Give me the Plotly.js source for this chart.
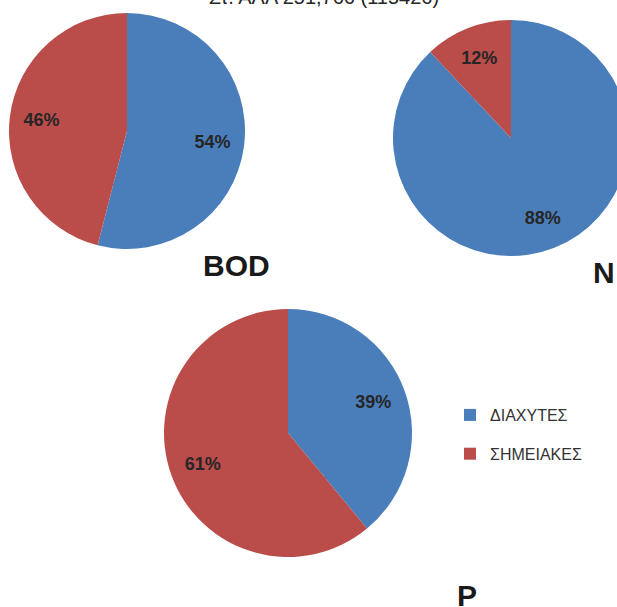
<!DOCTYPE html>
<html>
<head>
<meta charset="utf-8">
<script src="https://cdn.plot.ly/plotly-3.0.1.min.js"></script>
<style>
html,body{margin:0;padding:0;background:#fff;overflow:hidden;width:617px;height:607px;}
#chart{position:absolute;top:-20px;left:0;width:660px;height:640px;}
</style>
</head>
<body>
<div id="chart"></div>
<script>
const categories = ["ΔΙΑΧΥΤΕΣ", "ΣΗΜΕΙΑΚΕΣ"];
const bodValues = [54, 46];
const nValues = [88, 12];
const pValues = [39, 61];
const pieNames = ["BOD", "N", "P"];
const chartTitle = "Στ. ΑΛΛ 251,766 (115426)";

const colors = ["#4A7EBB", "#BA4D4A"];
const W = 660, H = 640, OFF = 20;
const HOLE = 0.46;

function box(cx, cy, r) {
  return {x: [(cx - r) / W, (cx + r) / W], y: [1 - (cy + r + OFF) / H, 1 - (cy - r + OFF) / H]};
}

// outer ring carries the labels (placed in the ring like Excel's ~0.73r), inner disc fills the hole
function pieRing(values, cx, cy, r) {
  return {
    type: "pie", labels: categories, values: values, sort: false,
    direction: "clockwise", rotation: 0, hole: HOLE,
    domain: box(cx, cy, r),
    marker: {colors: colors, line: {width: 0}},
    texttemplate: "%{percent:.0%}", textposition: "inside",
    insidetextorientation: "horizontal",
    textfont: {family: "Liberation Sans, Arial, sans-serif", size: 18, color: "#262626", weight: "bold"},
    showlegend: false, hoverinfo: "label+percent"
  };
}
function pieCore(values, cx, cy, r) {
  return {
    type: "pie", labels: categories, values: values, sort: false,
    direction: "clockwise", rotation: 0,
    domain: box(cx, cy, r * (HOLE + 0.02)),
    marker: {colors: colors, line: {width: 0}},
    textinfo: "none", showlegend: false, hoverinfo: "skip"
  };
}

const geo = [[127, 131, 118], [511, 138, 118], [288, 433, 124]];
const vals = [bodValues, nValues, pValues];
const data = [];
vals.forEach((v, i) => {
  data.push(pieCore(v, geo[i][0], geo[i][1], geo[i][2]));
  data.push(pieRing(v, geo[i][0], geo[i][1], geo[i][2]));
});
categories.forEach((c, i) => {
  data.push({
    type: "scatter", mode: "markers", x: [null], y: [null], name: c,
    legendgroup: "g" + i,
    marker: {symbol: "square", size: 12, color: colors[i], line: {width: 0}},
    showlegend: true, hoverinfo: "skip"
  });
});

const labelFont = {family: "Liberation Sans, Arial, sans-serif", size: 30, color: "#1a1a1a", weight: "bold"};
const labelPos = [[236, 265], [604, 272], [467, 595]];
const annotations = pieNames.map((n, i) => ({
  text: "<b>" + n + "</b>", xref: "paper", yref: "paper",
  x: labelPos[i][0] / W, y: 1 - (labelPos[i][1] + OFF) / H,
  xanchor: "center", yanchor: "middle", showarrow: false, font: labelFont
}));

const layout = {
  width: W, height: H,
  margin: {l: 0, r: 0, t: 0, b: 0},
  paper_bgcolor: "#ffffff", plot_bgcolor: "#ffffff",
  title: {text: chartTitle, x: 324 / W, xanchor: "center", xref: "container",
          y: 1 - (OFF + 4) / H, yanchor: "bottom", yref: "container",
          font: {family: "Liberation Sans, Arial, sans-serif", size: 20, color: "#262626"}},
  xaxis: {visible: false}, yaxis: {visible: false},
  showlegend: true,
  legend: {x: 450 / W, xanchor: "left", y: 1 - (OFF + 398) / H, yanchor: "top",
           font: {family: "Liberation Sans, Arial, sans-serif", size: 16, color: "#333333"},
           traceorder: "grouped", tracegroupgap: 15, bgcolor: "rgba(0,0,0,0)"},
  annotations: annotations
};

Plotly.newPlot("chart", data, layout, {displayModeBar: false, staticPlot: true});
</script>
</body>
</html>
